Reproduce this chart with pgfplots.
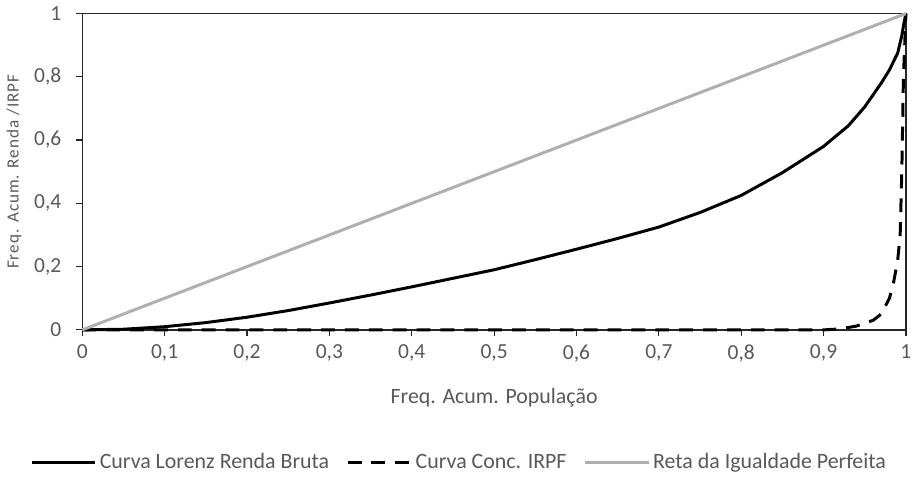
\documentclass[border=0pt]{standalone}
\usepackage{pgfplots}
\pgfplotsset{compat=1.18}
\usepackage{fontspec}
\setmainfont{Carlito}
\definecolor{txtgray}{RGB}{89,89,89}
\definecolor{eqgray}{RGB}{175,175,175}
\definecolor{axblack}{RGB}{38,38,38}

\begin{document}
\begin{tikzpicture}
\begin{axis}[
    width=414pt, height=159pt,
    scale only axis,
    xmin=0, xmax=1, ymin=0, ymax=1,
    xtick={0,0.1,...,1.0}, ytick={0,0.2,...,1.0},
    xticklabels={0,{0,1},{0,2},{0,3},{0,4},{0,5},{0,6},{0,7},{0,8},{0,9},1},
    yticklabels={0,{0,2},{0,4},{0,6},{0,8},1},
    tick align=outside, tick pos=left,
    major tick length=3pt,
    axis line style={axblack, line width=0.8pt},
    every tick/.style={axblack, line width=0.6pt},
    tick label style={font=\fontsize{10.8}{12}\selectfont, text=txtgray},
    xticklabel style={yshift=-1pt},
    yticklabel style={xshift=-4pt},
    xlabel={Freq. Acum. População},
    ylabel={\addfontfeature{LetterSpace=6}Freq. Acum. Renda /IRPF},
    x label style={font=\fontsize{11}{13}\selectfont, text=txtgray,
      at={(axis description cs:0.5,-0.215)}, anchor=center},
    y label style={font=\fontsize{8.6}{10}\selectfont, text=txtgray,
      at={(axis description cs:-0.083,0.5)}, anchor=center},
    legend columns=3,
    legend style={at={(axis description cs:0.458,-0.42)}, anchor=center, draw=none,
      font=\fontsize{11}{13}\selectfont, text=txtgray,
      nodes={inner xsep=1.5pt},
      /tikz/every even column/.append style={column sep=7pt}},
    legend cell align=left,
    legend image code/.code={\draw[#1] (0cm,0cm) -- (32pt,0cm);},
    clip=false,
]
\addplot[black, line width=1.5pt, mark=none] coordinates {
(0,0) (0.05,0.002) (0.1,0.01) (0.15,0.023) (0.2,0.04) (0.25,0.061)
(0.3,0.085) (0.35,0.11) (0.4,0.136) (0.45,0.163) (0.5,0.19)
(0.55,0.222) (0.6,0.255) (0.65,0.289) (0.7,0.325) (0.75,0.371)
(0.8,0.425) (0.85,0.497) (0.9,0.58) (0.93,0.645) (0.95,0.705)
(0.97,0.78) (0.98,0.822) (0.99,0.875) (0.995,0.93) (0.998,0.975) (1,1)
};
\addlegendentry{Curva Lorenz Renda Bruta}
\addplot[black, line width=1.5pt, dash pattern=on 7pt off 5pt, mark=none] coordinates {
(0,0) (0.9,0) (0.92,0.003) (0.94,0.012) (0.96,0.03) (0.97,0.05)
(0.98,0.1) (0.985,0.15) (0.99,0.22) (0.993,0.3) (0.995,0.5) (0.997,0.8) (1,1)
};
\addlegendentry{Curva Conc. IRPF}
\addplot[eqgray, line width=1.5pt, mark=none] coordinates {
(0,0) (1,1)
};
\addlegendentry{Reta da Igualdade Perfeita}
\end{axis}
\end{tikzpicture}
\end{document}
